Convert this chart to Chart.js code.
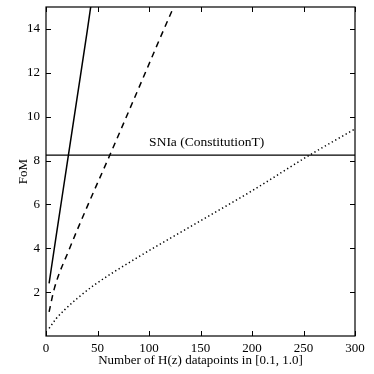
<!DOCTYPE html>
<html lang="en">
<head>
    <meta charset="UTF-8">
    <title>FoM vs number of H(z) datapoints</title>
    <script src="https://cdn.jsdelivr.net/npm/chart.js"></script>
    <style>
        body { margin: 0; background: #fff; }
        canvas { display: block; }
    </style>
</head>
<body>
    <canvas id="fomChart" width="374" height="374"></canvas>

    <script>
        // values
        var xTicks = [0, 50, 100, 150, 200, 250, 300];
        var yTicks = [2, 4, 6, 8, 10, 12, 14];

        // solid curve
        var nSolid = [3, 10, 20, 30, 40, 44];
        var fomSolid = [2.4, 4.6, 7.7, 10.8, 13.9, 15.2];

        // dashed curve
        var nDashed = [3, 8, 23, 40, 62, 90, 124, 128];
        var fomDashed = [1.1, 2.15, 4.0, 5.9, 8.25, 11.3, 15.0, 15.4];

        // dotted curve
        var nDotted = [3, 10, 18, 30, 47, 85, 140, 200, 256, 300];
        var fomDotted = [0.35, 0.8, 1.19, 1.7, 2.33, 3.47, 4.98, 6.62, 8.25, 9.44];

        // SNIa reference level
        var snLevel = 8.25;
        var snRange = [0, 300];
        var snLabel = 'SNIa (ConstitutionT)';
        var snLabelX = 156;

        function pts(xs, ys) {
            return xs.map(function (x, i) { return { x: x, y: ys[i] }; });
        }

        var serif = "'Liberation Serif', 'DejaVu Serif', serif";

        // frame, inward ticks on all four sides, and the SNIa label
        var framePlugin = {
            id: 'frame',
            afterDraw: function (chart) {
                var ctx = chart.ctx;
                var a = chart.chartArea;
                var xs = chart.scales.x, ys = chart.scales.y;
                var len = 5;
                ctx.save();
                ctx.strokeStyle = '#000';
                ctx.lineWidth = 1.2;
                ctx.strokeRect(a.left, a.top, a.right - a.left, a.bottom - a.top);
                ctx.lineWidth = 1;
                ctx.beginPath();
                xTicks.forEach(function (v) {
                    var px = Math.round(xs.getPixelForValue(v)) + 0.5;
                    ctx.moveTo(px, a.bottom); ctx.lineTo(px, a.bottom - len);
                    ctx.moveTo(px, a.top); ctx.lineTo(px, a.top + len);
                });
                yTicks.forEach(function (v) {
                    var py = Math.round(ys.getPixelForValue(v)) + 0.5;
                    ctx.moveTo(a.left, py); ctx.lineTo(a.left + len, py);
                    ctx.moveTo(a.right, py); ctx.lineTo(a.right - len, py);
                });
                ctx.stroke();

                ctx.fillStyle = '#000';
                ctx.font = '13.5px ' + serif;
                ctx.textAlign = 'center';
                ctx.textBaseline = 'alphabetic';
                ctx.fillText(snLabel, xs.getPixelForValue(snLabelX), ys.getPixelForValue(snLevel) - 9);
                ctx.restore();
            }
        };

        new Chart(document.getElementById('fomChart'), {
            type: 'line',
            data: {
                datasets: [
                    { data: pts(nSolid, fomSolid), borderColor: '#000', borderWidth: 1.5 },
                    { data: pts(nDashed, fomDashed), borderColor: '#000', borderWidth: 1.5, borderDash: [6, 5] },
                    { data: pts(nDotted, fomDotted), borderColor: '#000', borderWidth: 1.5, borderDash: [1.3, 2.7] },
                    { data: pts(snRange, [snLevel, snLevel]), borderColor: '#000', borderWidth: 1.3 }
                ]
            },
            plugins: [framePlugin],
            options: {
                responsive: false,
                animation: false,
                layout: { padding: { left: 0, right: 19, top: 7, bottom: 0 } },
                elements: { point: { radius: 0 }, line: { cubicInterpolationMode: 'monotone', fill: false } },
                plugins: { legend: { display: false }, tooltip: { enabled: false } },
                scales: {
                    x: {
                        type: 'linear', min: 0, max: 300,
                        afterBuildTicks: function (s) { s.ticks = xTicks.map(function (v) { return { value: v }; }); },
                        afterFit: function (s) { s.height = 38; s.paddingLeft = 0; s.paddingRight = 0; },
                        grid: { display: false, drawTicks: false }, border: { display: false },
                        ticks: { color: '#000', padding: 5, maxRotation: 0, font: { family: serif, size: 13 } },
                        title: {
                            display: true, text: 'Number of H(z) datapoints in [0.1, 1.0]', color: '#000',
                            padding: { top: 0, bottom: 6 }, font: { family: serif, size: 13 }
                        }
                    },
                    y: {
                        type: 'linear', min: 0, max: 15,
                        afterBuildTicks: function (s) { s.ticks = yTicks.map(function (v) { return { value: v }; }); },
                        afterFit: function (s) { s.width = 46; s.paddingTop = 0; s.paddingBottom = 0; },
                        grid: { display: false, drawTicks: false }, border: { display: false },
                        ticks: { color: '#000', padding: 6, font: { family: serif, size: 13 } },
                        title: {
                            display: true, text: 'FoM', color: '#000',
                            padding: { top: 16, bottom: 0 }, font: { family: serif, size: 13 }
                        }
                    }
                }
            }
        });
    </script>
</body>
</html>
